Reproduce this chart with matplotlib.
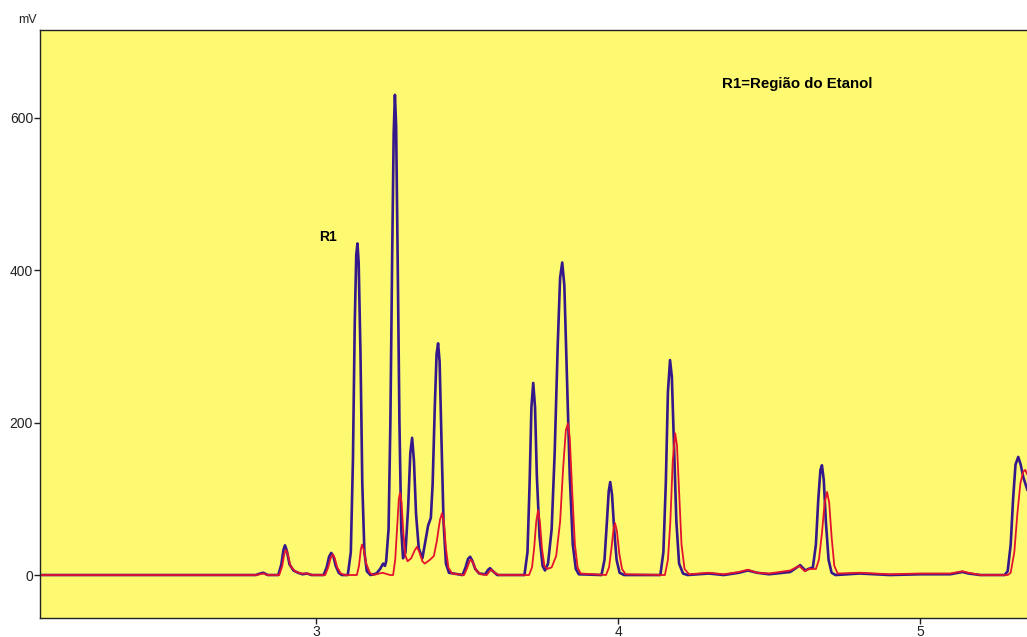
import matplotlib.pyplot as plt

# chromatogram traces (time in min, signal in mV)
t_blue = [2.086, 2.80, 2.815, 2.825, 2.84,
          2.875, 2.885, 2.892, 2.897, 2.903, 2.912, 2.925, 2.94, 2.955, 2.97, 2.985,
          3.025, 3.035, 3.043, 3.050, 3.057, 3.065, 3.075, 3.085,
          3.105, 3.115, 3.122, 3.128, 3.133, 3.137, 3.141, 3.147, 3.153, 3.160, 3.168, 3.180,
          3.200, 3.212, 3.222, 3.228,
          3.232, 3.240, 3.246, 3.252, 3.257, 3.261, 3.265, 3.270, 3.276, 3.282, 3.288,
          3.296, 3.305, 3.312, 3.318, 3.324, 3.331, 3.340, 3.352,
          3.362, 3.371, 3.380,
          3.386, 3.393, 3.399, 3.404, 3.409, 3.415, 3.422, 3.430, 3.440,
          3.485, 3.495, 3.503, 3.510, 3.517, 3.527, 3.540,
          3.560, 3.570, 3.576, 3.583, 3.600,
          3.690, 3.700, 3.707, 3.713, 3.719, 3.725, 3.731, 3.740, 3.750, 3.758,
          3.768, 3.780, 3.790, 3.800, 3.808, 3.815, 3.822, 3.830, 3.840, 3.850, 3.860, 3.870,
          3.945, 3.955, 3.963, 3.969, 3.974, 3.980, 3.987, 3.995, 4.005, 4.020,
          4.140, 4.150, 4.158, 4.165, 4.172, 4.178, 4.185, 4.193, 4.202, 4.215, 4.230,
          4.30, 4.35, 4.40, 4.43, 4.46, 4.50, 4.57, 4.603, 4.620, 4.630,
          4.645, 4.655, 4.663, 4.670, 4.675, 4.681, 4.688, 4.697, 4.707, 4.720,
          4.80, 4.90, 5.00, 5.10, 5.14, 5.16, 5.20, 5.28,
          5.290, 5.300, 5.308, 5.316, 5.325, 5.333, 5.342, 5.355]
mv_blue = [0, 0, 2, 3, 0,
           0, 14, 33, 39, 32, 14, 6, 3, 1, 2, 0,
           0, 10, 24, 29, 25, 12, 3, 0,
           0, 30, 150, 330, 420, 435, 410, 290, 120, 30, 5, 0,
           2, 8, 15, 12,
           18, 60, 200, 420, 580, 630, 590, 420, 200, 60, 22,
           30, 90, 160, 180, 150, 80, 35, 22,
           45, 65, 75,
           120, 220, 290, 304, 280, 180, 70, 15, 3,
           0, 10, 21, 24, 19, 8, 2,
           1, 7, 9, 6, 0,
           0, 30, 120, 220, 252, 220, 130, 50, 12, 6,
           15, 60, 160, 300, 390, 410, 380, 270, 130, 40, 8, 1,
           0, 20, 70, 110, 122, 105, 60, 20, 3, 0,
           0, 30, 120, 240, 282, 260, 170, 70, 15, 2, 0,
           2, 0, 3, 6, 3, 1, 4, 13, 6, 8,
           10, 40, 100, 138, 144, 125, 70, 20, 3, 0,
           2, 0, 1, 1, 4, 2, 0, 0,
           5, 40, 100, 145, 155, 145, 128, 112]

t_red = [2.086, 2.80, 2.825, 2.84,
         2.878, 2.888, 2.895, 2.900, 2.906, 2.915, 2.93, 2.95, 2.97, 2.99,
         3.030, 3.040, 3.048, 3.055, 3.062, 3.070, 3.082, 3.095,
         3.135, 3.142, 3.148, 3.152, 3.158, 3.166, 3.178, 3.190,
         3.220, 3.245,
         3.255, 3.262, 3.268, 3.274, 3.278, 3.283, 3.289, 3.296,
         3.303, 3.315, 3.326, 3.334, 3.342, 3.352, 3.360, 3.377,
         3.390, 3.400, 3.410, 3.417, 3.423, 3.430, 3.438, 3.450,
         3.490, 3.500, 3.508, 3.513, 3.520, 3.530, 3.545,
         3.565, 3.575, 3.580, 3.588, 3.605,
         3.705, 3.715, 3.722, 3.729, 3.735, 3.741, 3.748, 3.756, 3.765,
         3.780, 3.795, 3.808, 3.818, 3.827, 3.834, 3.840, 3.848, 3.857, 3.866, 3.876,
         3.960, 3.970, 3.978, 3.985, 3.990, 3.996, 4.004, 4.013, 4.025,
         4.155, 4.165, 4.173, 4.181, 4.189, 4.195, 4.202, 4.210, 4.220, 4.235,
         4.30, 4.35, 4.40, 4.43, 4.46, 4.50, 4.57, 4.600, 4.618, 4.632,
         4.655, 4.665, 4.675, 4.684, 4.692, 4.699, 4.707, 4.716, 4.727,
         4.80, 4.90, 5.00, 5.10, 5.14, 5.16, 5.20, 5.29,
         5.300, 5.312, 5.322, 5.332, 5.341, 5.348, 5.355]
mv_red = [0, 0, 2, 0,
          0, 12, 28, 33, 28, 12, 5, 2, 2, 0,
          0, 10, 22, 27, 22, 10, 2, 0,
          0, 12, 33, 40, 33, 15, 3, 0,
          3, 0,
          0, 20, 60, 100, 108, 95, 55, 25,
          18, 22, 32, 37, 30, 18, 15, 20,
          25, 45, 72, 81, 70, 35, 10, 2,
          0, 9, 18, 20, 16, 6, 1,
          0, 5, 7, 4, 0,
          0, 10, 35, 70, 85, 70, 35, 12, 8,
          10, 25, 70, 140, 190, 199, 180, 110, 40, 10, 2,
          0, 10, 35, 60, 68, 58, 28, 8, 1,
          0, 20, 70, 150, 186, 170, 110, 40, 8, 1,
          3, 1, 4, 7, 3, 2, 6, 12, 5, 8,
          8, 20, 55, 95, 109, 95, 50, 12, 2,
          3, 1, 2, 2, 5, 3, 0, 0,
          3, 30, 80, 120, 135, 138, 132]

y_ticks = [0, 200, 400, 600]
x_ticks = [3, 4, 5]

plt.rcParams['font.family'] = ['Liberation Sans', 'DejaVu Sans']

fig = plt.figure(figsize=(10.27, 6.37), dpi=100)
ax = fig.add_axes([0.039, 0.0298, 0.961, 0.923])
ax.set_facecolor('#fdfa72')

ax.plot(t_blue, mv_blue, color='#35188a', lw=1.9)
ax.plot(t_red, mv_red, color='#e3122d', lw=1.3)

ax.set_xlim(2.086, 5.354)
ax.set_ylim(-56.4, 715)
ax.set_xticks(x_ticks)
ax.set_yticks(y_ticks)
ax.tick_params(length=4, width=1, pad=1, labelsize=10, colors='#222222')
ax.spines['right'].set_visible(False)
for s in ['left', 'top', 'bottom']:
    ax.spines[s].set_linewidth(1)
    ax.spines[s].set_color('#222222')

ax.text(3.04, 443, 'R1', fontsize=10, fontweight='bold', ha='center', va='center')
ax.text(4.344, 644, 'R1=Região do Etanol', fontsize=10.8, fontweight='bold',
        ha='left', va='center')
fig.text(0.027, 0.969, 'mV', fontsize=9, ha='center', va='center', color='#222222')

fig.savefig('out.png', dpi=100)
